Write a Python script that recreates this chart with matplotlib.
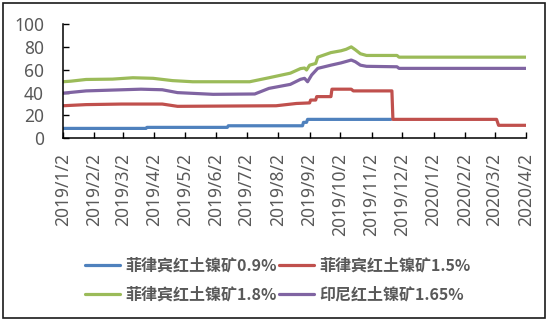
import numpy as np
import pandas as pd
import matplotlib
matplotlib.use("Agg")
from matplotlib import pyplot as plt
from matplotlib.patches import Rectangle

plt.rcParams['font.family'] = ['Noto Sans CJK SC', 'DejaVu Sans']

# series names (legend)
names = ["菲律宾红土镍矿0.9%", "菲律宾红土镍矿1.5%",
         "菲律宾红土镍矿1.8%", "印尼红土镍矿1.65%"]
colors = ["#4F81BD", "#C0504D", "#9BBB59", "#8064A2"]

# breakpoints
blue_dates = ["2019-01-02", "2019-03-25", "2019-03-26", "2019-06-13", "2019-06-14",
              "2019-08-26", "2019-08-27", "2019-08-30", "2019-08-31", "2019-11-21"]
blue_vals = [8.7, 8.7, 9.6, 9.6, 11.0,
             11.0, 14.0, 14.0, 16.6, 16.6]

red_dates = ["2019-01-02", "2019-01-25", "2019-03-01", "2019-04-10", "2019-04-25",
             "2019-07-31", "2019-08-20", "2019-09-02", "2019-09-03", "2019-09-08",
             "2019-09-09", "2019-09-23", "2019-09-24", "2019-10-13", "2019-10-15",
             "2019-11-22", "2019-11-23", "2020-03-04", "2020-03-06", "2020-04-02"]
red_vals = [28.5, 29.5, 30.0, 30.0, 28.0,
            28.5, 30.5, 31.0, 33.5, 33.5,
            36.5, 36.5, 43.0, 43.0, 41.5,
            41.5, 16.6, 16.6, 11.4, 11.4]

green_dates = ["2019-01-02", "2019-01-10", "2019-01-25", "2019-02-20", "2019-03-12",
               "2019-04-01", "2019-04-20", "2019-05-10", "2019-07-05", "2019-07-24",
               "2019-08-14", "2019-08-24", "2019-08-28", "2019-08-30", "2019-09-02",
               "2019-09-08", "2019-09-10", "2019-09-23", "2019-10-03", "2019-10-08",
               "2019-10-13", "2019-10-17", "2019-10-22", "2019-10-28", "2019-11-27",
               "2019-11-29", "2020-04-02"]
green_vals = [49.5, 50.0, 51.5, 51.8, 53.0,
              52.5, 50.5, 49.5, 49.5, 53.0,
              57.0, 61.0, 61.5, 59.8, 64.0,
              65.5, 71.0, 75.0, 76.6, 77.9,
              80.0, 77.5, 74.0, 72.5, 72.5,
              71.0, 71.0]

purple_dates = ["2019-01-02", "2019-01-25", "2019-03-20", "2019-04-10", "2019-04-25",
                "2019-05-30", "2019-07-10", "2019-07-24", "2019-08-14", "2019-08-24",
                "2019-08-28", "2019-08-31", "2019-09-04", "2019-09-10", "2019-09-23",
                "2019-10-03", "2019-10-13", "2019-10-17", "2019-10-22", "2019-10-28",
                "2019-11-27", "2019-11-29", "2020-04-02"]
purple_vals = [39.5, 41.5, 43.0, 42.5, 40.0,
               38.5, 38.8, 43.7, 47.2, 51.6,
               52.5, 49.5, 55.4, 61.2, 64.0,
               66.0, 68.5, 67.0, 64.0, 63.0,
               62.6, 61.2, 61.2]

tick_dates = ["2019-01-02", "2019-02-02", "2019-03-02", "2019-04-02", "2019-05-02",
              "2019-06-02", "2019-07-02", "2019-08-02", "2019-09-02", "2019-10-02",
              "2019-11-02", "2019-12-02", "2020-01-02", "2020-02-02", "2020-03-02",
              "2020-04-02"]
tick_labels = ["2019/1/2", "2019/2/2", "2019/3/2", "2019/4/2", "2019/5/2",
               "2019/6/2", "2019/7/2", "2019/8/2", "2019/9/2", "2019/10/2",
               "2019/11/2", "2019/12/2", "2020/1/2", "2020/2/2", "2020/3/2",
               "2020/4/2"]

fig = plt.figure(figsize=(5.5, 3.21), dpi=100)
ax = fig.add_axes([0.114, 0.569, 0.8424, 0.3562])

series = [(blue_dates, blue_vals), (red_dates, red_vals),
          (green_dates, green_vals), (purple_dates, purple_vals)]
handles = []
for (d, v), name, c in zip(series, names, colors):
    h, = ax.plot(pd.to_datetime(d), v, color=c, lw=2.3, label=name,
                 solid_capstyle='round', solid_joinstyle='round')
    handles.append(h)

ax.set_xlim(pd.Timestamp("2019-01-02"), pd.Timestamp("2020-04-02"))
ax.set_ylim(0, 100)
ax.set_yticks(np.arange(0, 101, 20))
ax.set_xticks(pd.to_datetime(tick_dates))
ax.set_xticklabels(tick_labels, rotation=90)

for s in ["top", "right"]:
    ax.spines[s].set_visible(False)
for s in ["left", "bottom"]:
    ax.spines[s].set_linewidth(1.1)
ax.tick_params(axis='both', direction='in', length=4, width=1.0,
               labelsize=12.5, labelcolor='#595959')
ax.tick_params(axis='x', pad=10.5)
ax.tick_params(axis='y', pad=13.5)
for lbl in ax.get_xticklabels() + ax.get_yticklabels():
    lbl.set_family(['Noto Sans', 'DejaVu Sans'])
    lbl.set_fontweight('bold')

# legend rows: 0.9% / 1.5% on top, 1.8% / 1.65% below
order = [0, 2, 1, 3]
leg = fig.legend([handles[i] for i in order], [names[i] for i in order],
                 loc='center', bbox_to_anchor=(0.505, 0.128), ncol=2,
                 frameon=False, handlelength=2.2, handletextpad=0.3,
                 columnspacing=0.15, labelspacing=0.8,
                 prop={'size': 11.5, 'weight': 'bold'})
for t in leg.get_texts():
    t.set_color('#595959')

fig.patches.append(Rectangle((3 / 550, 3 / 321), 542 / 550, 315 / 321,
                             transform=fig.transFigure, fill=False,
                             edgecolor='#1a1a1a', lw=1.2))

fig.savefig("out.png", dpi=100)
